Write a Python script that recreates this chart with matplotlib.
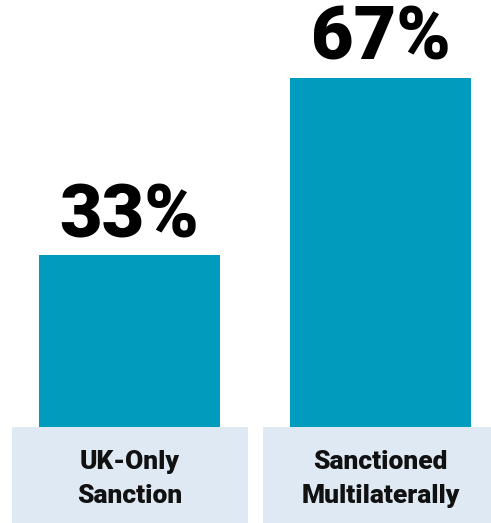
import matplotlib
matplotlib.use("Agg")
import matplotlib.pyplot as plt
from matplotlib.patches import Rectangle

# data
categories = ["UK-Only\nSanction", "Sanctioned\nMultilaterally"]
shares = [33, 67]
value_labels = ["33%", "67%"]

bar_color = "#009bbd"
box_color = "#dee9f3"

fig = plt.figure(figsize=(4.91, 5.23), dpi=100)
ax = fig.add_axes([0, 0, 1, 1])

x = list(range(len(categories)))
bars = ax.bar(x, shares, width=0.721, color=bar_color, zorder=2)

# label boxes under the bars
for xi, cat in zip(x, categories):
	ax.add_patch(Rectangle((xi - 0.47, -18.4), 0.94, 18.4, color=box_color, lw=0, zorder=1))
	ax.text(xi, -10.0, cat, ha="center", va="center", fontsize=19,
		fontweight="black", family="Roboto", linespacing=1.5, color="#111111")

for b, lab in zip(bars, value_labels):
	ax.annotate(lab, (b.get_x() + b.get_width() / 2, b.get_height()),
		xytext=(0, 13), textcoords="offset points", ha="center", va="baseline",
		fontsize=53, fontweight="black", family="Roboto", color="black")

ax.set_xlim(-0.516, 1.440)
ax.set_ylim(-18.4, 81.96)
ax.axis("off")

fig.savefig("out.png", dpi=100)
